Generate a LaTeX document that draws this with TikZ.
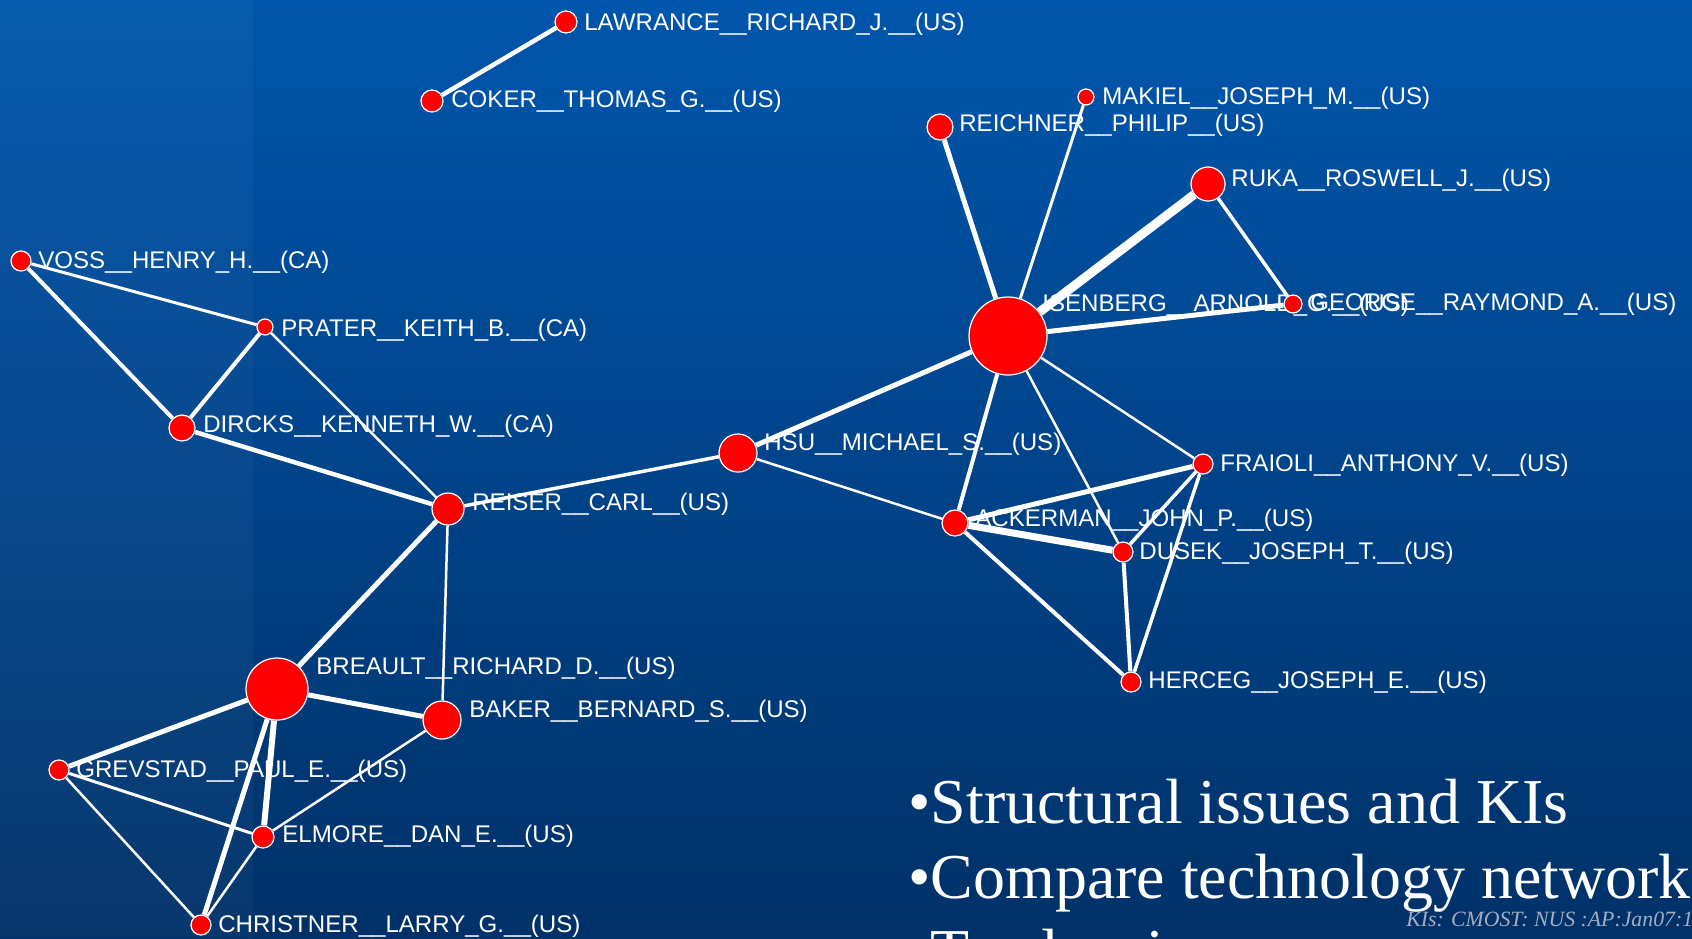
\documentclass[tikz,border=0pt]{standalone}
\usepackage{fontspec}
\setmainfont{Liberation Serif}
\setsansfont{Liberation Sans}

\definecolor{slidetop}{RGB}{0,86,172}
\definecolor{slidebot}{RGB}{0,49,104}
\definecolor{footgray}{RGB}{165,172,192}

\pgfdeclarelayer{back}
\pgfdeclarelayer{links}
\pgfsetlayers{back,links,main}

\begin{document}
\begin{tikzpicture}[x=0.02cm,y=-0.02cm,
    author/.style={circle,fill=red,draw=white,line width=0.7pt,inner sep=0pt,minimum size=#1*0.04cm},
    tag/.style={anchor=west,inner sep=0pt,text=white,font=\sffamily\fontsize{13.7}{16}\selectfont},
    lnk/.style={draw=white,line width=#1*0.02cm},
    bullet/.style={anchor=base west,inner sep=0pt,text=white,font=\fontsize{36.4}{40}\selectfont}]

    \useasboundingbox (0,0) rectangle (1692,938);
    \clip (0,0) rectangle (1692,938);

    % slide background
    \begin{pgfonlayer}{back}
        \shade[top color=slidetop,bottom color=slidebot] (0,0) rectangle (1692,938);
        \fill[white,opacity=0.03] (0,0) rectangle (253,938);
    \end{pgfonlayer}

    % inventors
    \node[author=11] (lawrance) at (566,22) {};
    \node[author=11] (coker) at (432,101) {};
    \node[author=10] (voss) at (21,261) {};
    \node[author=8] (prater) at (265,327) {};
    \node[author=13] (dircks) at (182,428) {};
    \node[author=16] (reiser) at (448,509) {};
    \node[author=19] (hsu) at (738,453) {};
    \node[author=39] (isenberg) at (1008,336) {};
    \node[author=8] (makiel) at (1086,97) {};
    \node[author=13] (reichner) at (940,127) {};
    \node[author=17] (ruka) at (1208,184) {};
    \node[author=9] (george) at (1293,304) {};
    \node[author=10] (fraioli) at (1203,464) {};
    \node[author=13] (ackerman) at (955,523) {};
    \node[author=10] (dusek) at (1123,552) {};
    \node[author=10] (herceg) at (1131,682) {};
    \node[author=31] (breault) at (277,689) {};
    \node[author=19] (baker) at (442,720) {};
    \node[author=10] (grevstad) at (59,770) {};
    \node[author=11] (elmore) at (263,837) {};
    \node[author=10] (christner) at (201,925) {};

    \begin{pgfonlayer}{links}
        \node[tag] (lawrance-t) at (584,24) {LAWRANCE\_\_RICHARD\_J.\_\_(US)};
        \node[tag] (coker-t) at (451,101) {COKER\_\_THOMAS\_G.\_\_(US)};
        \node[tag] (voss-t) at (38,262) {VOSS\_\_HENRY\_H.\_\_(CA)};
        \node[tag] (prater-t) at (281,330) {PRATER\_\_KEITH\_B.\_\_(CA)};
        \node[tag] (dircks-t) at (203,426) {DIRCKS\_\_KENNETH\_W.\_\_(CA)};
        \node[tag] (reiser-t) at (472,504) {REISER\_\_CARL\_\_(US)};
        \node[tag] (hsu-t) at (764,444) {HSU\_\_MICHAEL\_S.\_\_(US)};
        \node[tag] (isenberg-t) at (1042,305) {ISENBERG\_\_ARNOLD\_G.\_\_(US)};
        \node[tag] (makiel-t) at (1102,98) {MAKIEL\_\_JOSEPH\_M.\_\_(US)};
        \node[tag] (reichner-t) at (959,125) {REICHNER\_\_PHILIP\_\_(US)};
        \node[tag] (ruka-t) at (1231,180) {RUKA\_\_ROSWELL\_J.\_\_(US)};
        \node[tag] (george-t) at (1310,304) {GEORGE\_\_RAYMOND\_A.\_\_(US)};
        \node[tag] (fraioli-t) at (1220,465) {FRAIOLI\_\_ANTHONY\_V.\_\_(US)};
        \node[tag] (ackerman-t) at (975,520) {ACKERMAN\_\_JOHN\_P.\_\_(US)};
        \node[tag] (dusek-t) at (1139,553) {DUSEK\_\_JOSEPH\_T.\_\_(US)};
        \node[tag] (herceg-t) at (1148,682) {HERCEG\_\_JOSEPH\_E.\_\_(US)};
        \node[tag] (breault-t) at (316,668) {BREAULT\_\_RICHARD\_D.\_\_(US)};
        \node[tag] (baker-t) at (469,711) {BAKER\_\_BERNARD\_S.\_\_(US)};
        \node[tag] (grevstad-t) at (76,771) {GREVSTAD\_\_PAUL\_E.\_\_(US)};
        \node[tag] (elmore-t) at (282,836) {ELMORE\_\_DAN\_E.\_\_(US)};
        \node[tag] (christner-t) at (218,926) {CHRISTNER\_\_LARRY\_G.\_\_(US)};

        \path
            (lawrance) edge[lnk=4.5] (coker)
            (voss) edge[lnk=3] (prater)
            (voss) edge[lnk=4] (dircks)
            (prater) edge[lnk=4] (dircks)
            (prater) edge[lnk=2.5] (reiser)
            (dircks) edge[lnk=4.5] (reiser)
            (reiser) edge[lnk=3.5] (hsu)
            (reiser) edge[lnk=5] (breault)
            (reiser) edge[lnk=2.5] (baker)
            (hsu) edge[lnk=5] (isenberg)
            (hsu) edge[lnk=2.5] (ackerman)
            (isenberg) edge[lnk=5] (reichner)
            (isenberg) edge[lnk=3] (makiel)
            (isenberg) edge[lnk=9] (ruka)
            (isenberg) edge[lnk=5] (george)
            (ruka) edge[lnk=3.5] (george)
            (isenberg) edge[lnk=2.5] (fraioli)
            (isenberg) edge[lnk=4] (ackerman)
            (isenberg) edge[lnk=2.5] (dusek)
            (ackerman) edge[lnk=5] (fraioli)
            (ackerman) edge[lnk=7] (dusek)
            (ackerman) edge[lnk=4] (herceg)
            (dusek) edge[lnk=3.5] (fraioli)
            (dusek) edge[lnk=4] (herceg)
            (fraioli) edge[lnk=3.5] (herceg)
            (breault) edge[lnk=5] (baker)
            (breault) edge[lnk=5] (grevstad)
            (breault) edge[lnk=6] (elmore)
            (breault) edge[lnk=5] (christner)
            (grevstad) edge[lnk=3] (elmore)
            (grevstad) edge[lnk=2.5] (christner)
            (baker) edge[lnk=2.5] (elmore)
            (elmore) edge[lnk=2.5] (christner)
            ;
    \end{pgfonlayer}

    % bullet points
    \node[bullet] (pt1) at (908,823) {•Structural issues and KIs};
    \node[bullet] (pt2) at (908,898) {•Compare technology network};
    \node[bullet] (pt3) at (908,973) {•Tendencies};

    \node[anchor=base west,inner sep=0pt,text=footgray,font=\itshape\fontsize{12.4}{14}\selectfont] (foot) at (1406,926) {KIs: CMOST: NUS :AP:Jan07:19};
\end{tikzpicture}
\end{document}
